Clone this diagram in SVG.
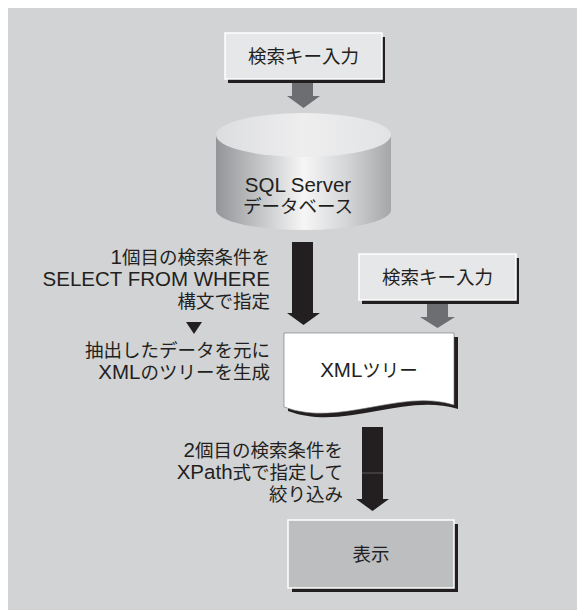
<svg xmlns="http://www.w3.org/2000/svg" width="577" height="610" viewBox="0 0 577 610">
<defs>
<linearGradient id="cylBody" x1="0" y1="0" x2="1" y2="0">
<stop offset="0" stop-color="#939598"/>
<stop offset="0.25" stop-color="#c4c5c7"/>
<stop offset="0.5" stop-color="#f6f6f6"/>
<stop offset="0.75" stop-color="#d4d5d7"/>
<stop offset="1" stop-color="#a4a6a8"/>
</linearGradient>
<linearGradient id="cylTop" x1="0" y1="0" x2="1" y2="0">
<stop offset="0" stop-color="#dcdddf"/>
<stop offset="0.5" stop-color="#eeeeef"/>
<stop offset="1" stop-color="#e2e3e4"/>
</linearGradient>
</defs>
<style>
.t{font-family:"Liberation Sans","Noto Sans CJK JP",sans-serif;font-size:18.5px;fill:#231f20}
.l{font-size:20.5px}
.box{fill:#e6e7e8;stroke:#ffffff;stroke-width:1.5}
.shadow{fill:#231f20}
.garrow{fill:#6d6e71}
.barrow{fill:#231f20}
</style>
<rect x="0" y="0" width="577" height="610" fill="#ffffff"/>
<rect x="8" y="8" width="569" height="602" fill="#d1d3d4"/>

<g id="connectors">
<polygon class="garrow" points="292,83 313,83 313,96 320,96 303.5,108 287,96 292,96"/>
<polygon class="barrow" points="292,242 313,242 313,313 320,313 303.5,325 287,313 292,313"/>
<polygon class="garrow" points="427,303 448,303 448,317 455,317 437.5,328 420,317 427,317"/>
<polygon class="barrow" points="362,427 383,427 383,499 389,499 372.5,511 356,499 362,499"/>
<line x1="362" y1="473" x2="383" y2="473" stroke="#58595b" stroke-width="1"/>
</g>

<g id="search-key-1">
<rect class="shadow" x="228" y="37" width="157" height="46"/>
<rect class="box" x="225" y="33" width="157" height="46"/>
<text class="t" x="303.5" y="63" text-anchor="middle">検索キー入力</text>
</g>

<g id="sql-server-db">
<path d="M216,135 V210 A87.5,20 0 0 0 391,210 V135 Z" fill="url(#cylBody)"/>
<ellipse cx="303.5" cy="135" rx="87.5" ry="22" fill="url(#cylTop)"/>
<text class="t" x="298" y="192" text-anchor="middle"><tspan class="l">SQL Server</tspan></text>
<text class="t" x="298" y="213" text-anchor="middle">データベース</text>
</g>

<g id="label-1">
<text class="t" x="270" y="264" text-anchor="end"><tspan class="l">1</tspan>個目の検索条件を</text>
<text class="t" x="270" y="286" text-anchor="end"><tspan class="l">SELECT FROM WHERE</tspan></text>
<text class="t" x="270" y="308" text-anchor="end">構文で指定</text>
<polygon points="186,322 202,322 194,334" fill="#231f20"/>
<text class="t" x="270" y="357" text-anchor="end">抽出したデータを元に</text>
<text class="t" x="270" y="379" text-anchor="end"><tspan class="l">XML</tspan>のツリーを生成</text>
</g>

<g id="search-key-2">
<rect class="shadow" x="362" y="258" width="157" height="46"/>
<rect class="box" x="359" y="254" width="157" height="46"/>
<text class="t" x="437.5" y="284" text-anchor="middle">検索キー入力</text>
</g>

<g id="xml-tree">
<path d="M288,337 H458 V409 C404,392 344,432 288,411 Z" fill="#231f20"/>
<path d="M284,333 H454 V405 C400,388 340,428 284,407 Z" fill="#ffffff" stroke="#6d6e71" stroke-width="0.6"/>
<text class="t" x="369" y="377" text-anchor="middle"><tspan class="l">XML</tspan>ツリー</text>
</g>

<g id="label-2">
<text class="t" x="343" y="457" text-anchor="end"><tspan class="l">2</tspan>個目の検索条件を</text>
<text class="t" x="343" y="479" text-anchor="end"><tspan class="l">XPath</tspan>式で指定して</text>
<text class="t" x="343" y="501" text-anchor="end">絞り込み</text>
</g>

<g id="display">
<rect class="shadow" x="292" y="524" width="166" height="68"/>
<rect x="288" y="520" width="166" height="68" fill="#bcbec0" stroke="#ffffff" stroke-width="1.5"/>
<text class="t" x="371" y="561" text-anchor="middle">表示</text>
</g>
</svg>
